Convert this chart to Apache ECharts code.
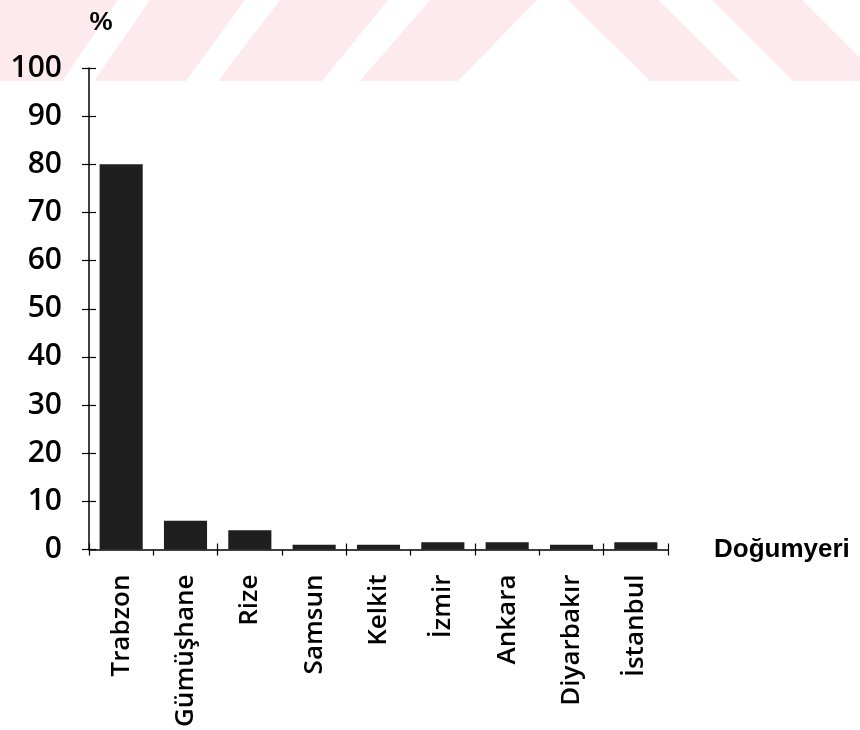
<!DOCTYPE html>
<html>
<head>
<meta charset="utf-8">
<script src="https://cdn.jsdelivr.net/npm/echarts@6/dist/echarts.min.js"></script>
<style>
html,body{margin:0;padding:0;background:#fff;}
#chart{width:860px;height:730px;}
</style>
</head>
<body>
<div id="chart"></div>
<script>
const categories = ['Trabzon', 'Gümüşhane', 'Rize', 'Samsun', 'Kelkit', 'İzmir', 'Ankara', 'Diyarbakır', 'İstanbul'];
const percentValues = [80, 6, 4, 1, 1, 1.5, 1.5, 1, 1.5];
const yTicks = [0, 10, 20, 30, 40, 50, 60, 70, 80, 90, 100];
const xAxisName = 'Doğumyeri';
const yAxisName = '%';

const chart = echarts.init(document.getElementById('chart'), null, {renderer: 'canvas'});

const pink = '#fdeaee';
const bandH = 81;
// decorative watermark stripes (not data): [topLeft, topRight, bottomLeft, bottomRight]
const stripeQuads = [
  [0, 118, 0, 62],
  [150, 245, 94, 186],
  [280, 388, 218, 322],
  [430, 537, 360, 458],
  [568, 658, 650, 740],
  [712, 802, 793, 883]
];
const stripes = stripeQuads.map(function (s) {
  return {type: 'polygon', silent: true, z: -10,
    shape: {points: [[s[0], 0], [s[1], 0], [s[3], bandH], [s[2], bandH]]},
    style: {fill: pink}};
});

const font = 'Open Sans';
const axisLine = {show: true, lineStyle: {color: '#000', width: 1.5}};

chart.setOption({
  backgroundColor: '#fff',
  animation: false,
  graphic: stripes,
  grid: {left: 89, right: 192, top: 68, bottom: 180, containLabel: false},
  xAxis: [{
    type: 'category',
    data: categories,
    position: 'bottom',
    name: xAxisName,
    nameLocation: 'end',
    nameGap: 46,
    nameTextStyle: {fontFamily: 'Liberation Sans', fontWeight: 'bold', fontSize: 26, color: '#000', verticalAlign: 'middle'},
    axisLine: axisLine,
    axisTick: {show: true, inside: false, length: 6, lineStyle: {color: '#000', width: 1.2}},
    axisLabel: {rotate: 90, margin: 25, fontFamily: font, fontWeight: 600, fontSize: 26, color: '#000', interval: 0},
    splitLine: {show: false}
  }, {
    type: 'category',
    data: categories,
    position: 'bottom',
    axisLine: {show: false},
    axisTick: {show: true, inside: true, length: 6, lineStyle: {color: '#000', width: 1.2}},
    axisLabel: {show: false},
    splitLine: {show: false}
  }],
  yAxis: [{
    type: 'value',
    min: yTicks[0],
    max: yTicks[yTicks.length - 1],
    interval: yTicks[1] - yTicks[0],
    name: yAxisName,
    nameLocation: 'end',
    nameGap: 32,
    nameTextStyle: {fontFamily: 'Liberation Sans', fontWeight: 'bold', fontSize: 26, color: '#000', padding: [0, 0, 0, 24]},
    axisLine: axisLine,
    axisTick: {show: true, inside: false, length: 7, lineStyle: {color: '#000', width: 1.2}},
    axisLabel: {margin: 27, fontFamily: font, fontWeight: 600, fontSize: 30, color: '#000'},
    splitLine: {show: false}
  }, {
    type: 'value',
    min: yTicks[0],
    max: yTicks[yTicks.length - 1],
    interval: yTicks[1] - yTicks[0],
    position: 'left',
    axisLine: {show: false},
    axisTick: {show: true, inside: true, length: 7, lineStyle: {color: '#000', width: 1.2}},
    axisLabel: {show: false},
    splitLine: {show: false}
  }],
  series: [{
    type: 'bar',
    data: percentValues,
    xAxisIndex: 0,
    yAxisIndex: 0,
    barWidth: '67%',
    itemStyle: {color: '#1f1f1f'}
  }]
});
</script>
</body>
</html>
